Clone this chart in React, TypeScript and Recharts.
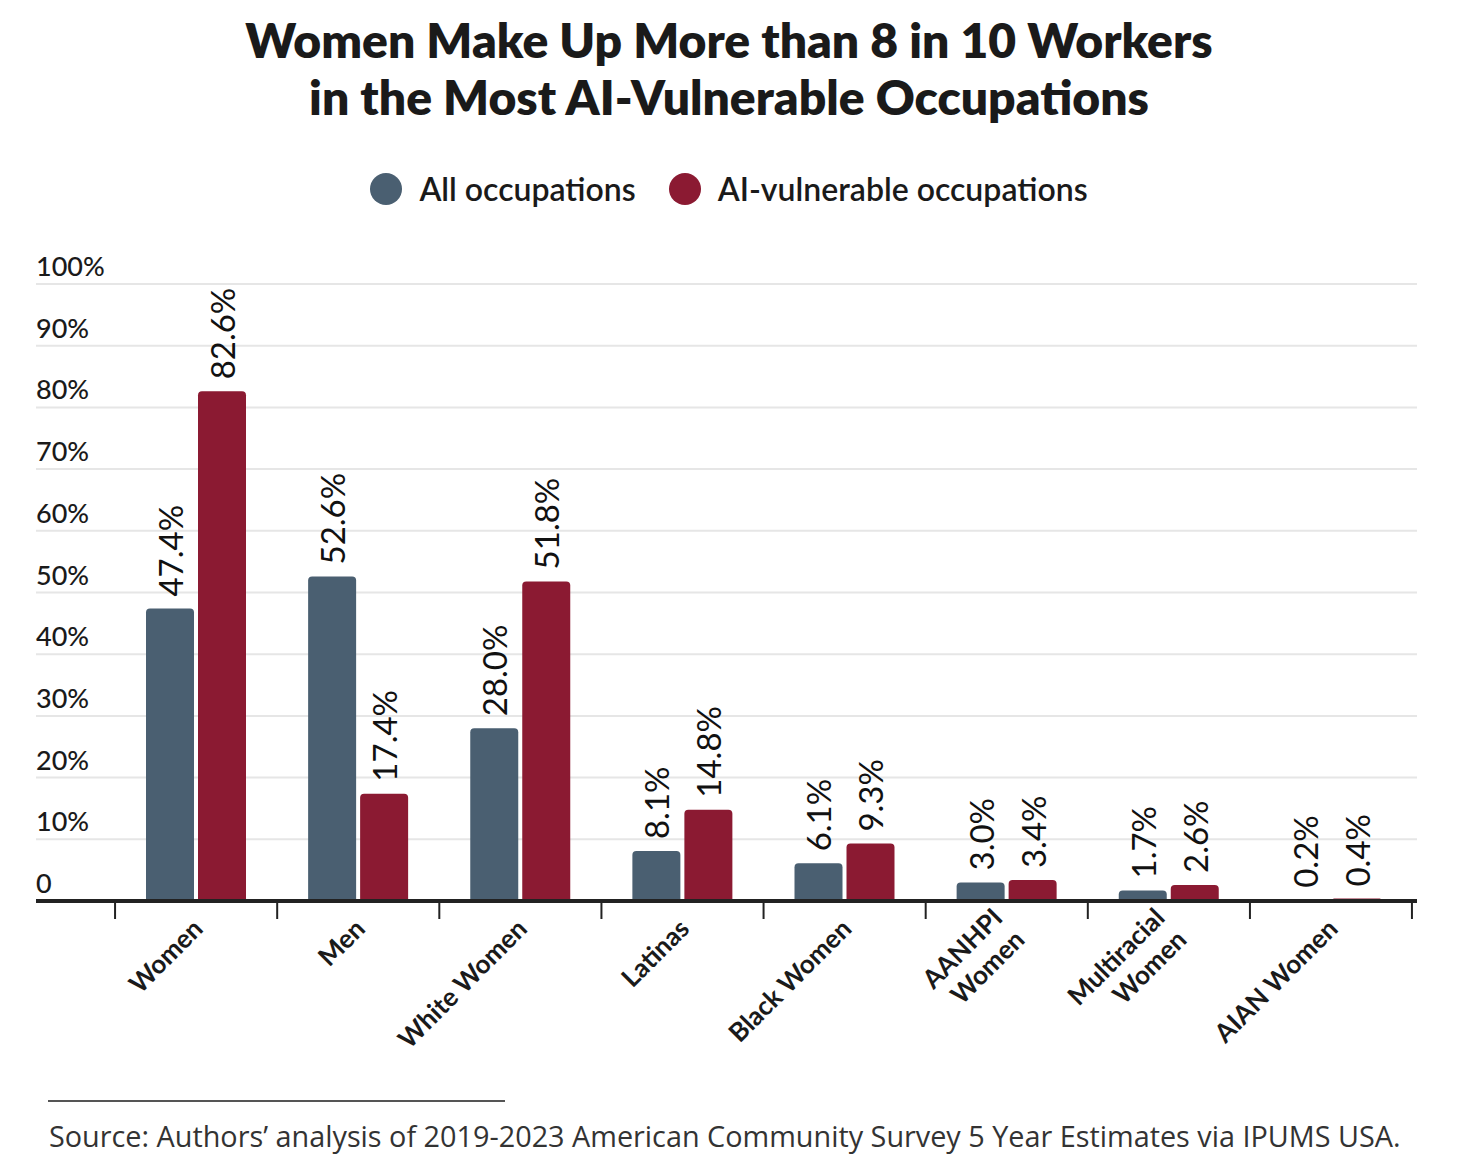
import React from "react";
import { BarChart, Bar, XAxis, YAxis, CartesianGrid, LabelList } from "recharts";

const categories = [
  "Women",
  "Men",
  "White Women",
  "Latinas",
  "Black Women",
  "AANHPI\nWomen",
  "Multiracial\nWomen",
  "AIAN Women",
];
const allOccupations = [47.4, 52.6, 28.0, 8.1, 6.1, 3.0, 1.7, 0.2];
const aiVulnerable = [82.6, 17.4, 51.8, 14.8, 9.3, 3.4, 2.6, 0.4];
const yTicks = [0, 10, 20, 30, 40, 50, 60, 70, 80, 90, 100];
const seriesNames = ["All occupations", "AI-vulnerable occupations"];

const BLUE = "#4a5f71";
const RED = "#8b1a32";
const TEXT = "#1a1a1a";
const FONT = "Lato, 'Open Sans', sans-serif";

const CHART_W = 1442;
const CHART_H = 1150;
const MARGIN = { top: 276, right: 33, bottom: 256, left: 28 };
const Y_AXIS_W = 1;
const X_PAD = { left: 79, right: 5 };
const PLOT_W = CHART_W - MARGIN.left - MARGIN.right - Y_AXIS_W;
const BAND_HALF = (PLOT_W - X_PAD.left - X_PAD.right) / categories.length / 2;

const data = categories.map((c, i) => ({
  name: c,
  all: allOccupations[i],
  ai: aiVulnerable[i],
}));

const ValueLabel = (props: any) => {
  const { x, y, width, value } = props;
  const cx = Number(x) + Number(width) / 2;
  const ty = Number(y) - 12;
  return (
    <text
      x={cx}
      y={ty}
      transform={`rotate(-90 ${cx} ${ty})`}
      textAnchor="start"
      dominantBaseline="central"
      fontSize={33}
      fontFamily={FONT}
      fill="#111"
    >
      {Number(value).toFixed(1)}%
    </text>
  );
};

const CategoryTick = (props: any) => {
  const { x, y, payload, index } = props;
  const cx = Number(x);
  const cy = Number(y);
  const lines = String(payload.value).split("\n");
  const lh = 31;
  const isLast = index === categories.length - 1;
  return (
    <g>
      <line x1={cx - BAND_HALF} x2={cx - BAND_HALF} y1={cy + 2} y2={cy + 18} stroke="#222" strokeWidth={2} />
      {isLast && (
        <line x1={cx + BAND_HALF} x2={cx + BAND_HALF} y1={cy + 2} y2={cy + 18} stroke="#222" strokeWidth={2} />
      )}
      <g transform={`translate(${cx + 2},${cy + 23}) rotate(-45)`}>
        <text textAnchor="end" fontSize={26} fontWeight={700} fontFamily={FONT} fill={TEXT}>
          {lines.map((l, i) => (
            <tspan key={i} x={0} y={(i - (lines.length - 1) / 2) * lh} dy="0.35em">
              {l}
            </tspan>
          ))}
        </text>
      </g>
    </g>
  );
};

const YTick = (props: any) => {
  const { x, y, payload } = props;
  const v = Number(payload.value);
  return (
    <text x={x} y={Number(y) - 8} textAnchor="start" fontSize={27} fontWeight={500} fontFamily={FONT} fill={TEXT}>
      {v === 0 ? "0" : `${v}%`}
    </text>
  );
};

const LegendItem = ({ color, label }: { color: string; label: string }) => (
  <div style={{ display: "flex", alignItems: "center", gap: 17 }}>
    <span style={{ width: 32, height: 32, borderRadius: 16, background: color, display: "inline-block" }} />
    <span style={{ fontSize: 32, fontWeight: 600, color: TEXT, lineHeight: "32px" }}>{label}</span>
  </div>
);

export default function App() {
  return (
    <div style={{ position: "relative", width: CHART_W, height: CHART_H, fontFamily: FONT, color: TEXT, background: "#fff" }}>
      <div
        style={{
          position: "absolute",
          top: 3,
          left: 0,
          width: CHART_W,
          textAlign: "center",
          fontSize: 48,
          lineHeight: "57px",
          fontWeight: 800,
          color: TEXT,
        }}
      >
        Women Make Up More than 8 in 10 Workers
        <br />
        in the Most AI-Vulnerable Occupations
      </div>
      <div
        style={{
          position: "absolute",
          top: 165,
          left: 0,
          width: CHART_W,
          height: 32,
          display: "flex",
          justifyContent: "center",
          alignItems: "center",
          gap: 33,
        }}
      >
        <LegendItem color={BLUE} label={seriesNames[0]} />
        <LegendItem color={RED} label={seriesNames[1]} />
      </div>
      <div style={{ position: "absolute", top: 0, left: 0 }}>
        <BarChart width={CHART_W} height={CHART_H} data={data} barGap={4} margin={MARGIN}>
          <CartesianGrid vertical={false} stroke="#e6e6e6" strokeWidth={2} />
          <YAxis
            type="number"
            domain={[0, 100]}
            ticks={yTicks}
            width={Y_AXIS_W}
            mirror
            tickSize={0}
            tickMargin={0}
            axisLine={false}
            tickLine={false}
            tick={<YTick />}
            interval={0}
          />
          <XAxis
            dataKey="name"
            height={1}
            padding={X_PAD}
            axisLine={{ stroke: "#222", strokeWidth: 4 }}
            tickLine={false}
            tickSize={0}
            tickMargin={0}
            interval={0}
            tick={<CategoryTick />}
          />
          <Bar dataKey="all" name={seriesNames[0]} fill={BLUE} barSize={48} radius={[4, 4, 0, 0]} isAnimationActive={false}>
            <LabelList dataKey="all" content={<ValueLabel />} />
          </Bar>
          <Bar dataKey="ai" name={seriesNames[1]} fill={RED} barSize={48} radius={[4, 4, 0, 0]} isAnimationActive={false}>
            <LabelList dataKey="ai" content={<ValueLabel />} />
          </Bar>
        </BarChart>
      </div>
      <div style={{ position: "absolute", top: 1092, left: 40, width: 457, height: 2, background: "#555" }} />
      <div
        style={{
          position: "absolute",
          top: 1109,
          left: 41,
          fontFamily: "'Open Sans', sans-serif",
          fontSize: 28.8,
          lineHeight: "38px",
          color: "#333",
          whiteSpace: "nowrap",
        }}
      >
        Source: Authors’ analysis of 2019-2023 American Community Survey 5 Year Estimates via IPUMS USA.
      </div>
    </div>
  );
}
